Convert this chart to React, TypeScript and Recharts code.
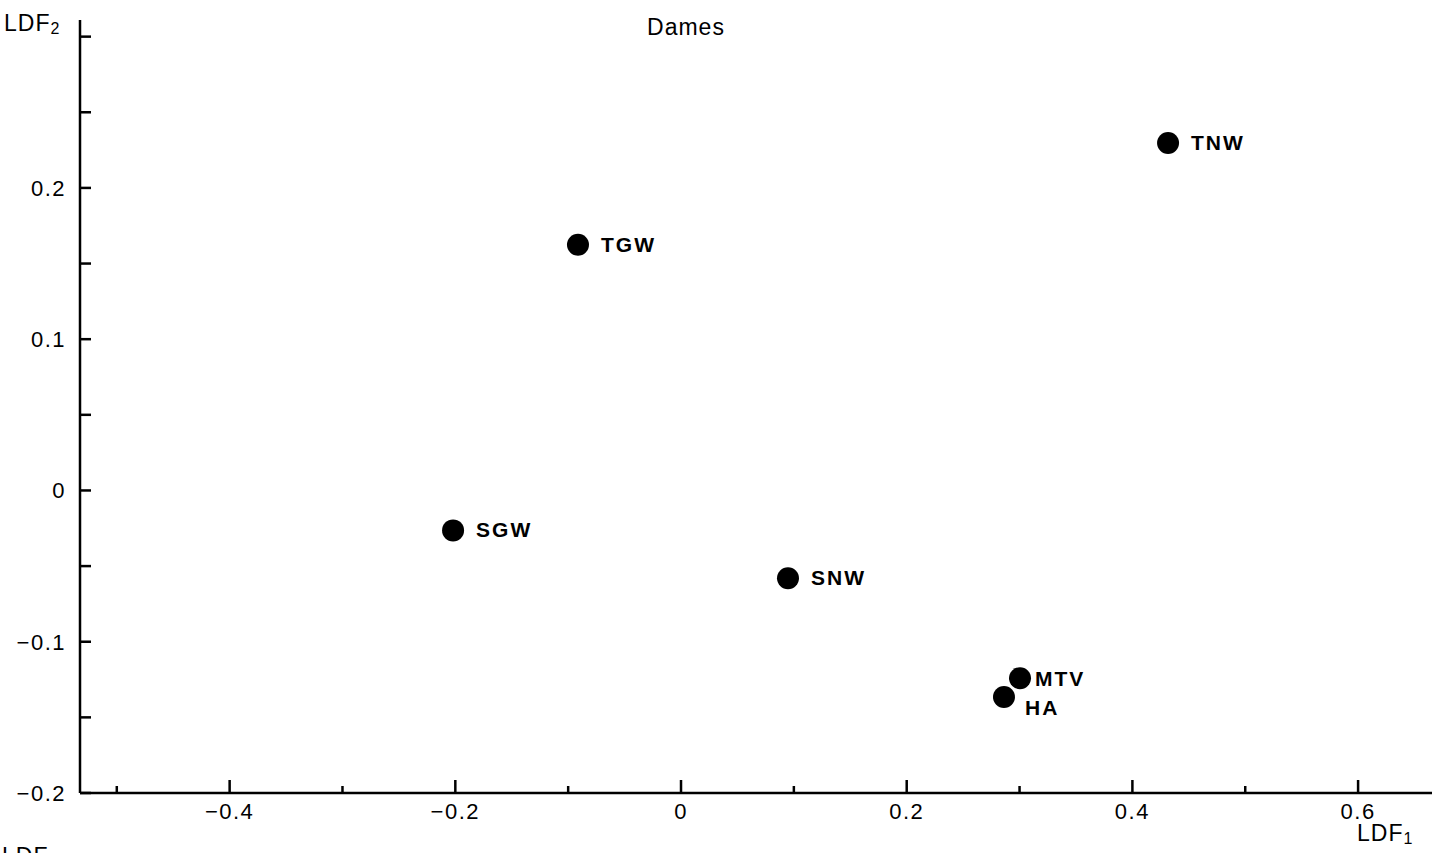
import React from 'react';
import { ScatterChart, Scatter, XAxis, YAxis, Customized } from 'recharts';

// groups and their discriminant scores
const groups = ['TNW', 'TGW', 'SGW', 'SNW', 'MTV', 'HA'];
const ldf1 = [0.4316, -0.0913, -0.202, 0.0948, 0.3004, 0.2862];
const ldf2 = [0.2297, 0.1624, -0.0264, -0.0581, -0.1241, -0.1366];

const xTicks = [-0.5, -0.4, -0.3, -0.2, -0.1, 0, 0.1, 0.2, 0.3, 0.4, 0.5, 0.6];
const xLabelled = [-0.4, -0.2, 0, 0.2, 0.4, 0.6];
const yTicks = [-0.2, -0.15, -0.1, -0.05, 0, 0.05, 0.1, 0.15, 0.2, 0.25, 0.3];
const yLabelled = [-0.2, -0.1, 0, 0.1, 0.2];

const data = groups.map((name, i) => ({ name, x: ldf1[i], y: ldf2[i] }));

// label offsets next to the dots (HA sits under MTV)
const labelOffset: Record<string, [number, number]> = {
  HA: [21, 11],
  MTV: [15, 1],
};

const FONT = '"Liberation Sans", Arial, Helvetica, sans-serif';

const fmt = (v: number) => {
  const r = Math.round(v * 10) / 10;
  if (r === 0) return '0';
  return (r < 0 ? '\u2212' : '') + Math.abs(r).toString();
};

const has = (list: number[], v: number) => list.some((t) => Math.abs(t - v) < 1e-6);

const XTick = (props: any) => {
  const { x, y, payload } = props;
  const major = has(xLabelled, payload.value);
  return (
    <g>
      <line x1={x} y1={y} x2={x} y2={y - (major ? 13 : 7)} stroke="#000" strokeWidth={2.5} />
      {major && (
        <text x={x} y={y + 26} textAnchor="middle" fontSize={22} fontFamily={FONT} letterSpacing={1.5} fill="#000">
          {fmt(payload.value)}
        </text>
      )}
    </g>
  );
};

const YTick = (props: any) => {
  const { x, y, payload } = props;
  const major = has(yLabelled, payload.value);
  return (
    <g>
      <line x1={x} y1={y} x2={x + 11} y2={y} stroke="#000" strokeWidth={2.5} />
      {major && (
        <text x={x - 14} y={y} dy={8} textAnchor="end" fontSize={22} fontFamily={FONT} letterSpacing={1.5} fill="#000">
          {fmt(payload.value)}
        </text>
      )}
    </g>
  );
};

const Dot = (props: any) => {
  const { cx, cy, payload } = props;
  const [dx, dy] = labelOffset[payload.name] || [23, 0];
  return (
    <g>
      <circle cx={cx} cy={cy} r={11} fill="#000" />
      <text
        x={cx + dx}
        y={cy + dy}
        dy={7}
        fontSize={21}
        fontWeight="bold"
        letterSpacing={2}
        fontFamily={FONT}
        fill="#000"
      >
        {payload.name}
      </text>
    </g>
  );
};

const Labels = () => (
  <g fontFamily={FONT} fill="#000">
    <text x={686} y={35} textAnchor="middle" fontSize={23} letterSpacing={1}>
      Dames
    </text>
    <text x={4} y={31} fontSize={23} letterSpacing={1}>
      LDF<tspan fontSize={16} dy={3}>2</tspan>
    </text>
    <text x={1357} y={841} fontSize={23} letterSpacing={1}>
      LDF<tspan fontSize={16} dy={3}>1</tspan>
    </text>
    <text x={2} y={864} fontSize={23} letterSpacing={1}>
      LDF
    </text>
  </g>
);

export default function App() {
  return (
    <div style={{ position: 'absolute', left: 0, top: 0, background: '#fff' }}>
      <ScatterChart width={1441} height={853} margin={{ top: 20, right: 9, left: 0, bottom: 0 }}>
        <XAxis
          type="number"
          dataKey="x"
          domain={[-0.5326, 0.6655]}
          allowDataOverflow
          ticks={xTicks}
          interval={0}
          height={60}
          tickSize={0}
          tickMargin={0}
          tickLine={false}
          axisLine={{ stroke: '#000', strokeWidth: 2.5 }}
          tick={<XTick />}
        />
        <YAxis
          type="number"
          dataKey="y"
          domain={[-0.2, 0.311]}
          allowDataOverflow
          ticks={yTicks}
          interval={0}
          width={80}
          tickSize={0}
          tickMargin={0}
          tickLine={false}
          axisLine={{ stroke: '#000', strokeWidth: 2.5 }}
          tick={<YTick />}
        />
        <Scatter data={data} shape={<Dot />} isAnimationActive={false} />
        <Customized component={<Labels />} />
      </ScatterChart>
    </div>
  );
}
